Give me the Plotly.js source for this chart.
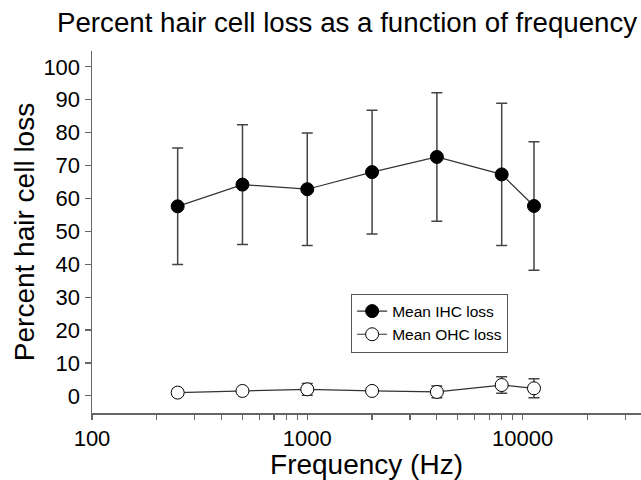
<!DOCTYPE html>
<html>
<head>
<meta charset="utf-8">
<script src="https://cdn.plot.ly/plotly-3.0.1.min.js"></script>
<style>html,body{margin:0;padding:0;background:#fff;}#chart{width:641px;height:480px;}</style>
</head>
<body>
<div id="chart"></div>
<script>
// Data
const frequencies = [250, 500, 1000, 2000, 4000, 8000, 11300];
const ihcMean = [57.6, 64.2, 62.8, 68.0, 72.6, 67.3, 57.7];
const ihcErr  = [17.7, 18.2, 17.1, 18.8, 19.5, 21.6, 19.5];
const ohcMean = [1.0, 1.5, 2.0, 1.5, 1.2, 3.3, 2.3];
const ohcErr  = [0.8, 0.8, 1.8, 0.8, 1.8, 2.5, 2.9];
const seriesNames = ["Mean IHC loss", "Mean OHC loss"];
const xTickVals = [100,200,300,400,500,600,700,800,900,1000,2000,3000,4000,5000,6000,7000,8000,9000,10000,20000,30000];
const xTickText = ["100","","","","","","","","","1000","","","","","","","","","10000","",""];
const yTickVals = [0,10,20,30,40,50,60,70,80,90,100];

const FONT = "Liberation Sans, Arial, sans-serif";

const traces = [
  {
    x: frequencies, y: ihcMean, name: seriesNames[0], type: "scatter", mode: "lines+markers",
    line: {color: "#333", width: 1.2},
    marker: {symbol: "circle", size: 13, color: "#000", line: {color: "#000", width: 1}},
    error_y: {type: "data", array: ihcErr, visible: true, color: "#444", thickness: 1.5, width: 5.5}
  },
  {
    x: frequencies, y: ohcMean, name: seriesNames[1], type: "scatter", mode: "lines+markers",
    line: {color: "#333", width: 1.2},
    marker: {symbol: "circle", size: 13, color: "#fff", line: {color: "#000", width: 1}},
    error_y: {type: "data", array: ohcErr, visible: true, color: "#444", thickness: 1.5, width: 5.5}
  }
];

const layout = {
  width: 641, height: 480,
  paper_bgcolor: "#fff", plot_bgcolor: "#fff",
  margin: {l: 92, r: 0, t: 51, b: 67, pad: 0},
  font: {family: FONT, color: "#000"},
  title: {text: "Percent hair cell loss as a function of frequency", font: {size: 27.7, family: FONT, color: "#000"},
          xref: "container", x: 57/641, xanchor: "left", yref: "container", y: 1 - 22/480, yanchor: "middle"},
  showlegend: true,
  legend: {x: 0.472, y: 0.33, xanchor: "left", yanchor: "top", bgcolor: "#fff", bordercolor: "#555", borderwidth: 1,
           font: {size: 15.5, family: FONT, color: "#000"}, tracegroupgap: 0},
  xaxis: {
    type: "log", range: [2, Math.log10(35500)],
    showline: true, linecolor: "#666", linewidth: 1.5,
    showgrid: false, zeroline: false,
    ticks: "outside", ticklen: 5, tickwidth: 1.2, tickcolor: "#666",
    tickmode: "array", tickvals: xTickVals, ticktext: xTickText,
    tickfont: {size: 22, family: FONT, color: "#000"},
    title: {text: "Frequency (Hz)", font: {size: 28, family: FONT, color: "#000"}, standoff: 4}
  },
  yaxis: {
    range: [-5.2, 104.8],
    showline: true, linecolor: "#666", linewidth: 1.5,
    showgrid: false, zeroline: false,
    ticks: "outside", ticklen: 6, tickwidth: 1.2, tickcolor: "#666",
    tickmode: "array", tickvals: yTickVals,
    tickfont: {size: 22, family: FONT, color: "#000"},
    title: {text: "Percent hair cell loss", font: {size: 28, family: FONT, color: "#000"}, standoff: 0}
  }
};

Plotly.newPlot("chart", traces, layout, {displayModeBar: false, staticPlot: true});
</script>
</body>
</html>
